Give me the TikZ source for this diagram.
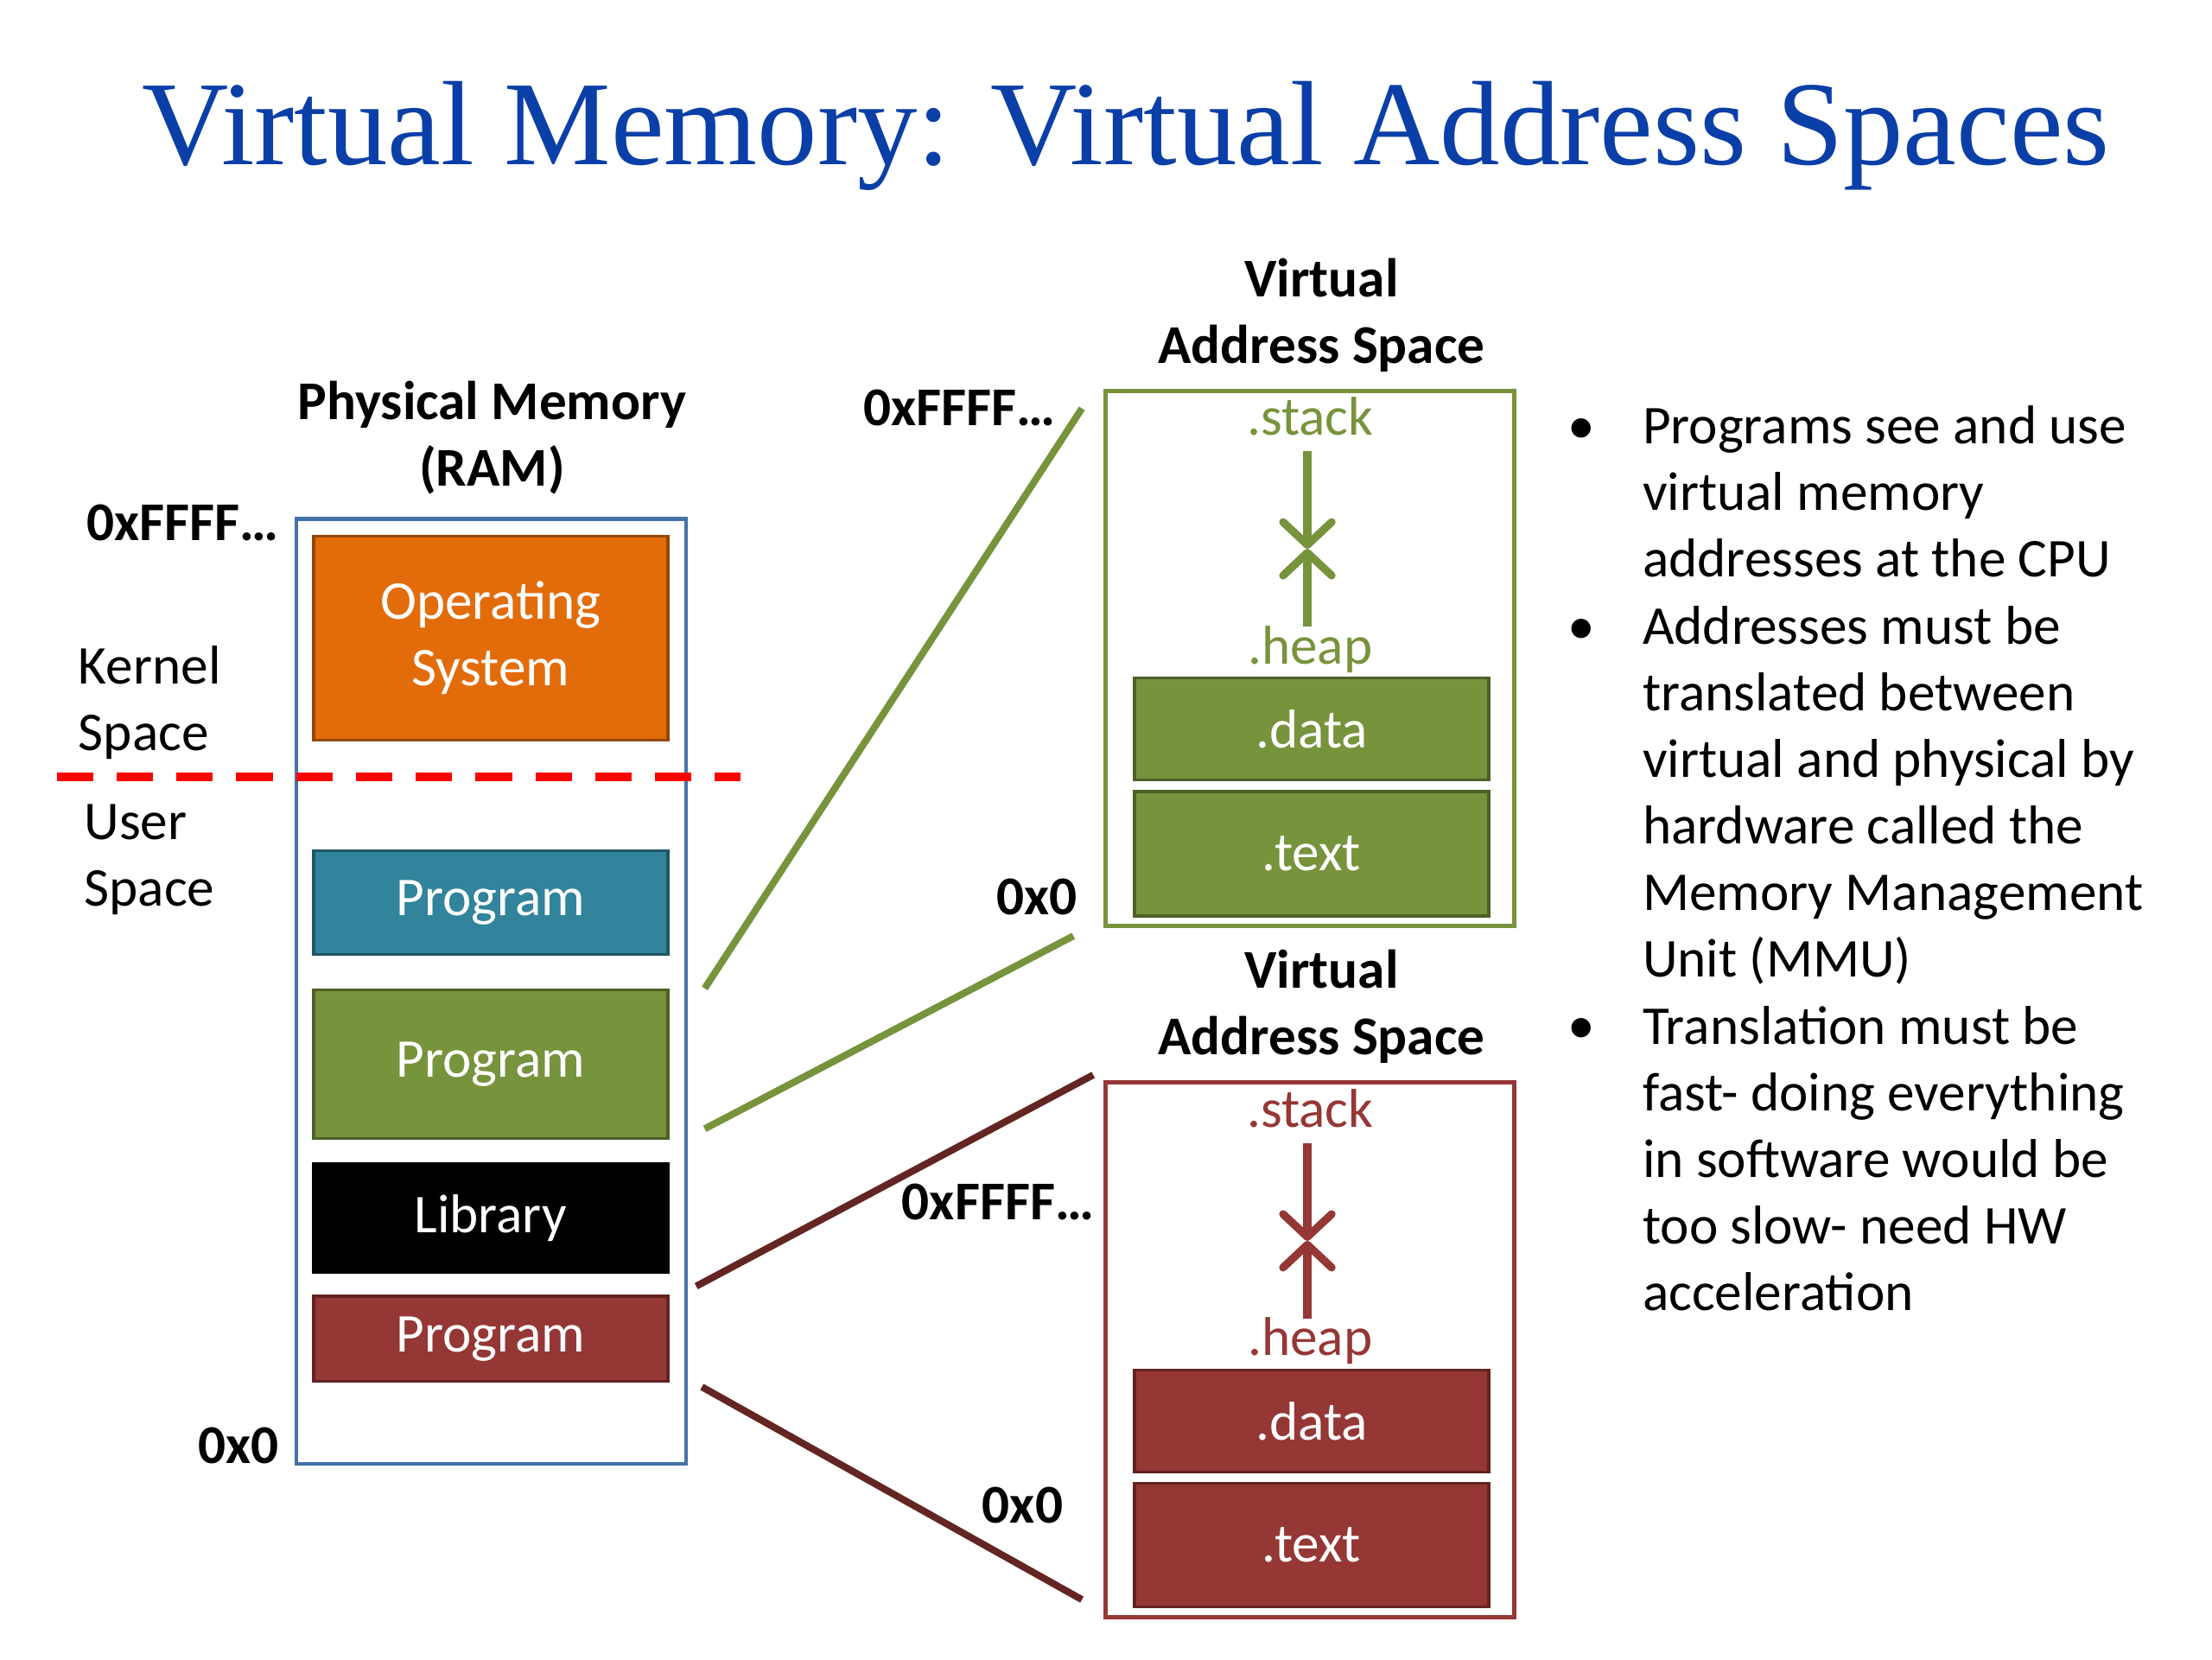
\documentclass[tikz,border=0pt]{standalone}
\usepackage{fontspec}
\setmainfont{Carlito}
\newfontfamily\titlefont{Liberation Serif}
\usetikzlibrary{arrows.meta}

\definecolor{titleblue}{HTML}{0B3FA8}
\definecolor{physblue}{HTML}{4472A8}
\definecolor{osorange}{HTML}{E36C0A}
\definecolor{progteal}{HTML}{31849B}
\definecolor{proggreen}{HTML}{77933C}
\definecolor{progred}{HTML}{953735}
\definecolor{linkred}{HTML}{632523}

\begin{document}
\begin{tikzpicture}[x=0.1641mm,y=-0.1641mm,
    every node/.style={font=\fontsize{18}{21.9}\selectfont, inner sep=0pt},
    head/.style={align=center, anchor=base, font=\fontsize{18}{21.9}\selectfont\bfseries},
    addr/.style={anchor=base east, font=\fontsize{18}{21.9}\selectfont\bfseries},
    seg/.style={draw=#1!65!black, fill=#1, line width=1pt, minimum width=41mm,
                text=white, align=center},
    vspace/.style={draw=#1, line width=1.4pt, minimum width=47.3mm, minimum height=61.9mm},
    region/.style={text=#1, anchor=base},
    maplink/.style={draw=#1, line width=2.3pt},
    growarrow/.style={draw=#1, line width=2.6pt,
                 -{Straight Barb[length=7.5pt,width=16pt,round]}},
    kerneldash/.style={draw=red, line width=2.8pt, dash pattern=on 12pt off 7.7pt}
  ]
  \fill[white] (0,0) rectangle (1560,1170);
  \useasboundingbox (0,0) rectangle (1560,1170);

  \node[anchor=base, text=titleblue, font=\titlefont\fontsize{39.5}{47}\selectfont] (title)
    at (794,116) {Virtual Memory: Virtual Address Spaces};

  %% physical memory
  \node[head] (physhead) at (347,343) {Physical Memory\\(RAM)};
  \node[draw=physblue, line width=1.2pt, minimum width=45.1mm, minimum height=109.3mm] (phys) at (346.5,699) {};
  \node[seg=osorange, minimum height=23.6mm] (os) at (346,450) {Operating\\System};
  \node[seg=progteal, minimum height=12.0mm] (progA) at (346,636.5) {Program};
  \node[seg=proggreen, minimum height=17.2mm] (progB) at (346,750.5) {Program};
  \node[seg=black, minimum height=12.5mm] (lib) at (346,859) {Library};
  \node[seg=progred, minimum height=9.85mm] (progC) at (346,944) {Program};
  \node[addr] (phystop) at (197,381) {0xFFFF…};
  \node[addr] (physbot) at (197,1032) {0x0};

  \node[anchor=base west, align=left] (kernel) at (55,529) {Kernel\\Space};
  \node[anchor=base west, align=left] (user) at (59,639) {User\\Space};
  \coordinate (kL) at (40,548);
  \coordinate (kR) at (522,548);
  \draw[kerneldash] (kL) -- (kR);

  %% first virtual address space (green)
  \node[head] (vheadA) at (932,256) {Virtual\\Address Space};
  \node[vspace=proggreen] (vasA) at (924,464.5) {};
  \node[region=proggreen] (stackA) at (924,307) {.stack};
  \node[region=proggreen] (heapA) at (924,468) {.heap};
  \node[seg=proggreen, minimum height=11.8mm] (dataA) at (925,514) {.data};
  \node[seg=proggreen, minimum height=14.4mm] (textA) at (925,602) {.text};
  \node[addr] (vtopA) at (745,300) {0xFFFF…};
  \node[addr] (vbotA) at (760,645) {0x0};
  \coordinate (sA) at (922,318);
  \coordinate (mA) at (922,387);
  \coordinate (hA) at (922,442);
  \draw[growarrow=proggreen] (sA) -- (mA);
  \draw[growarrow=proggreen] (hA) -- (mA);

  %% second virtual address space (red)
  \node[head] (vheadB) at (932,744) {Virtual\\Address Space};
  \node[vspace=progred] (vasB) at (924,952) {};
  \node[region=progred] (stackB) at (924,795) {.stack};
  \node[region=progred] (heapB) at (924,956) {.heap};
  \node[seg=progred, minimum height=11.8mm] (dataB) at (925,1002) {.data};
  \node[seg=progred, minimum height=14.3mm] (textB) at (925,1089.5) {.text};
  \node[addr] (vtopB) at (772,860) {0xFFFF…};
  \node[addr] (vbotB) at (750,1074) {0x0};
  \coordinate (sB) at (922,806);
  \coordinate (mB) at (922,875);
  \coordinate (hB) at (922,930);
  \draw[growarrow=progred] (sB) -- (mB);
  \draw[growarrow=progred] (hB) -- (mB);

  %% mapping lines
  \coordinate (pA1) at (497,697); \coordinate (vA1) at (763,288);
  \coordinate (pA2) at (497,796); \coordinate (vA2) at (757,660);
  \coordinate (pB1) at (491,907); \coordinate (vB1) at (771,758);
  \coordinate (pB2) at (495,978); \coordinate (vB2) at (763,1128);
  \draw[maplink=proggreen] (pA1) -- (vA1);
  \draw[maplink=proggreen] (pA2) -- (vA2);
  \draw[maplink=linkred] (pB1) -- (vB1);
  \draw[maplink=linkred] (pB2) -- (vB2);

  %% bullets
  \node[anchor=base] (dotA) at (1115,313) {•};
  \node[anchor=base west, align=left] (itemA) at (1158,407)
    {Programs see and use\\virtual memory\\addresses at the CPU};
  \node[anchor=base] (dotB) at (1115,454) {•};
  \node[anchor=base west, align=left] (itemB) at (1158,689)
    {Addresses must be\\translated between\\virtual and physical by\\hardware called the\\Memory Management\\Unit (MMU)};
  \node[anchor=base] (dotC) at (1115,736) {•};
  \node[anchor=base west, align=left] (itemC) at (1158,924)
    {Translation must be\\fast- doing everything\\in software would be\\too slow- need HW\\acceleration};
\end{tikzpicture}
\end{document}
